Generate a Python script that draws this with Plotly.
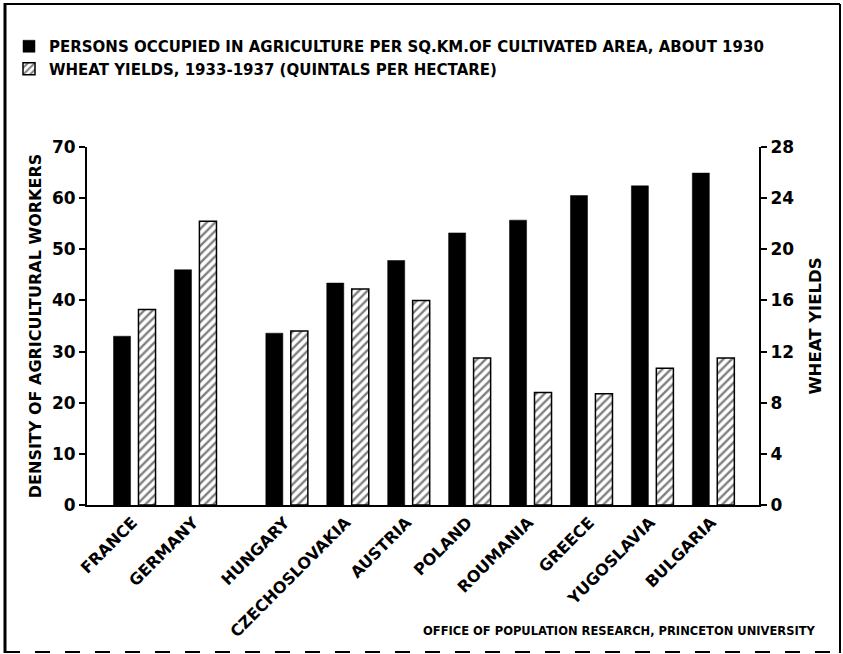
import plotly.graph_objects as go

# ---- data ----
countries = ["FRANCE", "GERMANY", "HUNGARY", "CZECHOSLOVAKIA", "AUSTRIA",
             "POLAND", "ROUMANIA", "GREECE", "YUGOSLAVIA", "BULGARIA"]
region_group = [0, 0, 1, 1, 1, 1, 1, 1, 1, 1]   # western vs. eastern group (gap between)
density = [33.0, 46.0, 33.6, 43.4, 47.8, 53.2, 55.7, 60.5, 62.4, 64.9]
wheat_yield = [15.3, 22.2, 13.6, 16.9, 16.0, 11.5, 8.8, 8.7, 10.7, 11.5]
left_ticks = [0, 10, 20, 30, 40, 50, 60, 70]
right_ticks = [0, 4, 8, 12, 16, 20, 24, 28]

name_density = "PERSONS OCCUPIED IN AGRICULTURE PER SQ.KM.OF CULTIVATED AREA, ABOUT 1930"
name_wheat = "WHEAT YIELDS, 1933-1937 (QUINTALS PER HECTARE)"
credit = "OFFICE OF POPULATION RESEARCH, PRINCETON UNIVERSITY"

# positions: half a slot of extra space between the two groups
xpos = [i + 0.5 * g for i, g in enumerate(region_group)]

FONT = "DejaVu Sans"
BLACK = "#000000"

fig = go.Figure()
fig.add_trace(go.Bar(
    x=xpos, y=density, name=name_density,
    width=0.28, offset=-0.345,
    marker=dict(color=BLACK, line=dict(color=BLACK, width=0.5)),
    yaxis="y",
))
fig.add_trace(go.Bar(
    x=xpos, y=wheat_yield, name=name_wheat,
    width=0.28, offset=0.065,
    marker=dict(color="white",
                pattern=dict(shape="/", fgcolor=BLACK, bgcolor="white",
                             size=6, solidity=0.4),
                line=dict(color=BLACK, width=1.5)),
    yaxis="y2",
))

W, H = 843, 654
L, R, T, B = 87, 84, 147, 149
pw, ph = W - L - R, H - T - B


def px_x(v):
    return (v - L) / pw


def px_y(v):
    return (H - B - v) / ph


fig.update_layout(
    width=W, height=H,
    margin=dict(l=L, r=R, t=T, b=B, autoexpand=False),
    paper_bgcolor="white", plot_bgcolor="white",
    barmode="overlay",
    font=dict(family=FONT, color=BLACK, weight="bold"),
    showlegend=True,
    legend=dict(
        x=px_x(9), y=px_y(30), xanchor="left", yanchor="top",
        font=dict(family=FONT, size=15, color=BLACK, weight="bold"),
        bgcolor="rgba(0,0,0,0)", traceorder="normal",
        itemclick=False, itemdoubleclick=False,
    ),
    xaxis=dict(
        range=[-0.78, 10.25],
        tickvals=xpos, ticktext=countries,
        tickangle=-45, ticks="", ticklabelshift=-2,
        tickfont=dict(family=FONT, size=16, color=BLACK, weight="bold"),
        showline=True, linecolor=BLACK, linewidth=2,
        showgrid=False, zeroline=False, fixedrange=True,
    ),
    yaxis=dict(
        range=[0, 70], tickvals=left_ticks,
        ticks="outside", ticklen=6, tickwidth=2, tickcolor=BLACK,
        tickfont=dict(family=FONT, size=17, color=BLACK, weight="bold"),
        showline=True, linecolor=BLACK, linewidth=2,
        showgrid=False, zeroline=False, fixedrange=True,
        title=dict(text="DENSITY OF AGRICULTURAL WORKERS", standoff=6,
                   font=dict(family=FONT, size=16, color=BLACK, weight="bold")),
    ),
    yaxis2=dict(
        range=[0, 28], tickvals=right_ticks,
        overlaying="y", side="right",
        ticks="outside", ticklen=6, tickwidth=2, tickcolor=BLACK,
        tickfont=dict(family=FONT, size=17, color=BLACK, weight="bold"),
        showline=True, linecolor=BLACK, linewidth=2,
        showgrid=False, zeroline=False, fixedrange=True,
        title=dict(text="WHEAT YIELDS", standoff=16,
                   font=dict(family=FONT, size=16.5, color=BLACK, weight="bold")),
    ),
    annotations=[dict(
        text=credit, xref="paper", yref="paper",
        x=px_x(818), y=px_y(631), xanchor="right", yanchor="middle",
        showarrow=False,
        font=dict(family=FONT, size=11.5, color=BLACK, weight="bold"),
    )],
    shapes=[
        dict(type="line", xref="paper", yref="paper",
             x0=px_x(5), x1=px_x(5), y0=px_y(3), y1=px_y(653),
             line=dict(color=BLACK, width=3)),
        dict(type="line", xref="paper", yref="paper",
             x0=px_x(5), x1=px_x(840), y0=px_y(4), y1=px_y(4),
             line=dict(color=BLACK, width=2)),
        dict(type="line", xref="paper", yref="paper",
             x0=px_x(840), x1=px_x(840), y0=px_y(4), y1=px_y(653),
             line=dict(color=BLACK, width=2)),
        dict(type="line", xref="paper", yref="paper",
             x0=px_x(5), x1=px_x(840), y0=px_y(652), y1=px_y(652),
             line=dict(color=BLACK, width=2, dash="longdash")),
    ],
)

fig.write_html("out.html",
               config={"displayModeBar": False},
               post_script="document.body.style.margin='0px';"
                           "document.body.style.overflow='hidden';")
